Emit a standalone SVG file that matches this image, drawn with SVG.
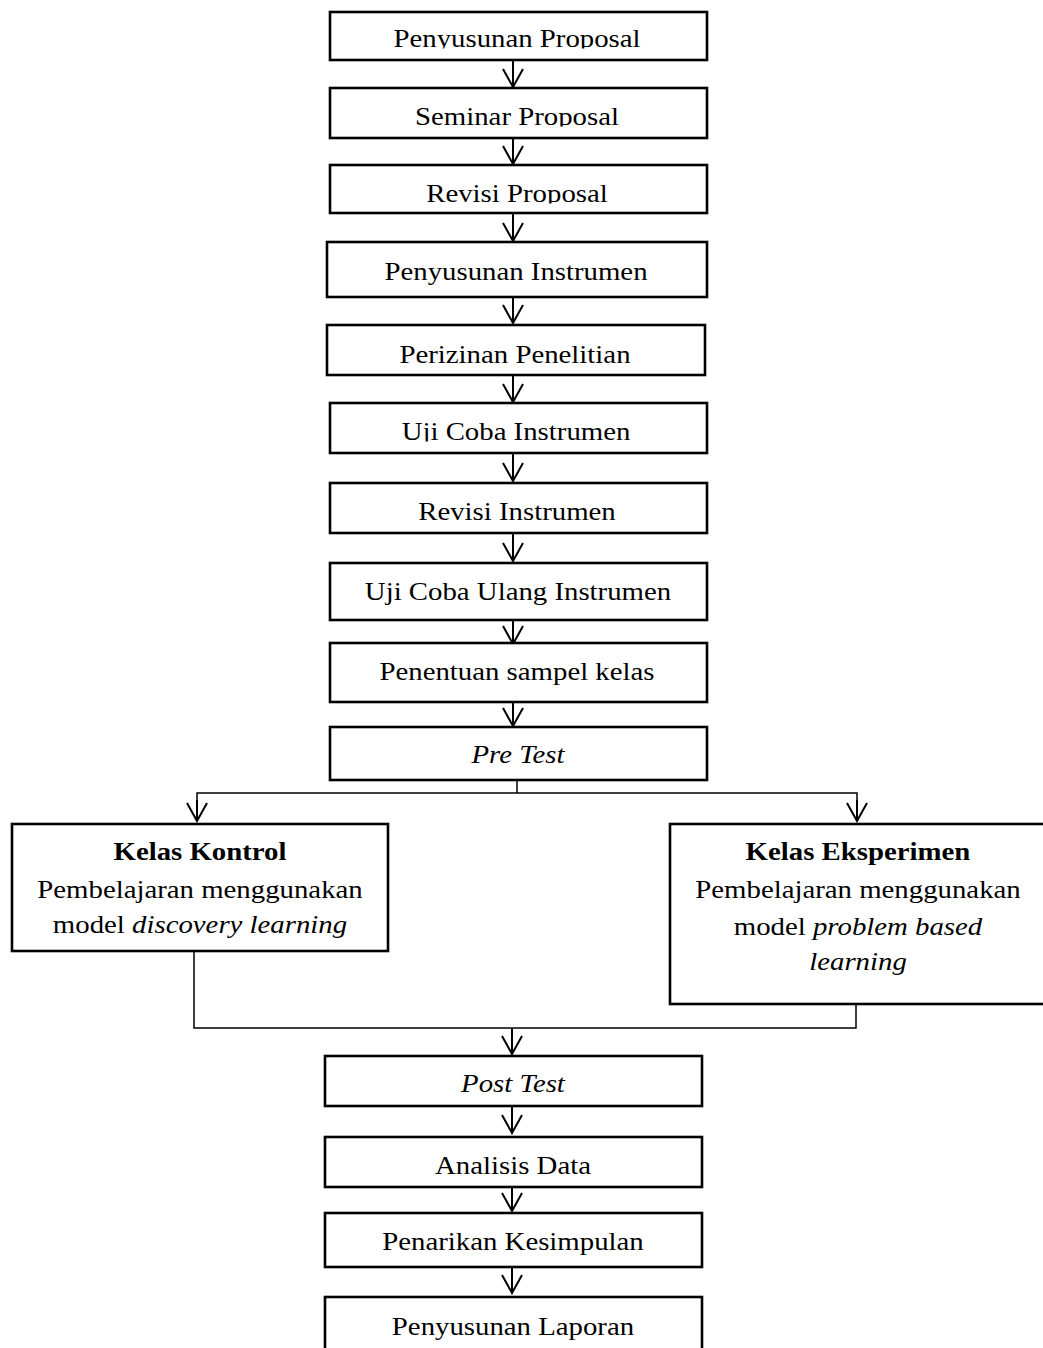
<svg xmlns="http://www.w3.org/2000/svg" width="1043" height="1348" viewBox="0 0 1043 1348">
<style>
.box{fill:#fff;stroke:#000;stroke-width:2.6}
.t{font-family:"Liberation Serif","Times New Roman",serif;font-size:25.5px;fill:#000;text-anchor:middle}
.i{font-style:italic}
.b{font-weight:bold}
.c{fill:none;stroke:#000;stroke-width:2}
.h{fill:none;stroke:#000;stroke-width:1.5}
</style>
<defs>
<marker id="ar" viewBox="-20 -12 22 24" markerWidth="22" markerHeight="24" refX="0" refY="0" markerUnits="userSpaceOnUse" orient="auto">
<path d="M-18,-10 L0,0 L-18,10" fill="none" stroke="#000" stroke-width="2"/>
</marker>
<clipPath id="cut"><rect x="-400" y="-50" width="800" height="51.5"/></clipPath>
</defs>
<g id="connectors">
<line class="c" x1="513" y1="60" x2="513" y2="87" marker-end="url(#ar)"/>
<line class="c" x1="513" y1="138" x2="513" y2="164" marker-end="url(#ar)"/>
<line class="c" x1="513" y1="213" x2="513" y2="241" marker-end="url(#ar)"/>
<line class="c" x1="513" y1="297" x2="513" y2="323" marker-end="url(#ar)"/>
<line class="c" x1="513" y1="375" x2="513" y2="402" marker-end="url(#ar)"/>
<line class="c" x1="513" y1="453" x2="513" y2="481" marker-end="url(#ar)"/>
<line class="c" x1="513" y1="533" x2="513" y2="561" marker-end="url(#ar)"/>
<line class="c" x1="513" y1="620" x2="513" y2="644" marker-end="url(#ar)"/>
<line class="c" x1="513" y1="702" x2="513" y2="726" marker-end="url(#ar)"/>
<polyline class="h" points="517,780 517,793"/>
<polyline class="h" points="197,820 197,793 857,793 857,820"/>
<line class="c" x1="197" y1="800" x2="197" y2="821" marker-end="url(#ar)"/>
<line class="c" x1="857" y1="800" x2="857" y2="821" marker-end="url(#ar)"/>
<polyline class="h" points="194,951 194,1028 856,1028 856,1004"/>
<line class="c" x1="512" y1="1028" x2="512" y2="1054" marker-end="url(#ar)"/>
<line class="c" x1="512" y1="1106" x2="512" y2="1133" marker-end="url(#ar)"/>
<line class="c" x1="512" y1="1186" x2="512" y2="1211" marker-end="url(#ar)"/>
<line class="c" x1="512" y1="1267" x2="512" y2="1293" marker-end="url(#ar)"/>
</g>
<g id="n1"><rect class="box" x="330" y="12" width="377" height="48"/><text class="t" clip-path="url(#cut)" transform="translate(517,47) scale(1.13,1)">Penyusunan Proposal</text></g>
<g id="n2"><rect class="box" x="330" y="88" width="377" height="50"/><text class="t" clip-path="url(#cut)" transform="translate(517,125) scale(1.13,1)">Seminar Proposal</text></g>
<g id="n3"><rect class="box" x="330" y="165" width="377" height="48"/><text class="t" clip-path="url(#cut)" transform="translate(517,202) scale(1.13,1)">Revisi Proposal</text></g>
<g id="n4"><rect class="box" x="327" y="242" width="380" height="55"/><text class="t" transform="translate(516,280) scale(1.13,1)">Penyusunan Instrumen</text></g>
<g id="n5"><rect class="box" x="327" y="325" width="378" height="50"/><text class="t" transform="translate(515,363) scale(1.13,1)">Perizinan Penelitian</text></g>
<g id="n6"><rect class="box" x="330" y="403" width="377" height="50"/><text class="t" clip-path="url(#cut)" transform="translate(516,440) scale(1.13,1)">Uji Coba Instrumen</text></g>
<g id="n7"><rect class="box" x="330" y="483" width="377" height="50"/><text class="t" transform="translate(517,520) scale(1.13,1)">Revisi Instrumen</text></g>
<g id="n8"><rect class="box" x="330" y="563" width="377" height="57"/><text class="t" transform="translate(518,600) scale(1.13,1)">Uji Coba Ulang Instrumen</text></g>
<g id="n9"><rect class="box" x="330" y="643" width="377" height="59"/><text class="t" transform="translate(517,680) scale(1.13,1)">Penentuan sampel kelas</text></g>
<g id="n10"><rect class="box" x="330" y="727" width="377" height="53"/><text class="t i" transform="translate(518,763) scale(1.13,1)">Pre Test</text></g>
<g id="n11"><rect class="box" x="12" y="824" width="376" height="127"/>
<text class="t b" transform="translate(200,860) scale(1.13,1)">Kelas Kontrol</text>
<text class="t" transform="translate(200,898) scale(1.13,1)">Pembelajaran menggunakan</text>
<text class="t" transform="translate(200,933) scale(1.13,1)">model <tspan class="i">discovery learning</tspan></text></g>
<g id="n12"><rect class="box" x="670" y="824" width="380" height="180"/>
<text class="t b" transform="translate(858,860) scale(1.13,1)">Kelas Eksperimen</text>
<text class="t" transform="translate(858,898) scale(1.13,1)">Pembelajaran menggunakan</text>
<text class="t" transform="translate(858,935) scale(1.13,1)">model <tspan class="i">problem based</tspan></text>
<text class="t i" transform="translate(858,970) scale(1.13,1)">learning</text></g>
<g id="n13"><rect class="box" x="325" y="1056" width="377" height="50"/><text class="t i" transform="translate(513,1092) scale(1.13,1)">Post Test</text></g>
<g id="n14"><rect class="box" x="325" y="1137" width="377" height="50"/><text class="t" transform="translate(513,1174) scale(1.13,1)">Analisis Data</text></g>
<g id="n15"><rect class="box" x="325" y="1213" width="377" height="54"/><text class="t" transform="translate(513,1250) scale(1.13,1)">Penarikan Kesimpulan</text></g>
<g id="n16"><rect class="box" x="325" y="1297" width="377" height="70"/><text class="t" transform="translate(513,1335) scale(1.13,1)">Penyusunan Laporan</text></g>
</svg>
